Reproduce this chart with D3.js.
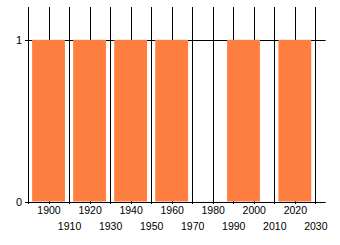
<!DOCTYPE html>
<html><head><meta charset="utf-8">
<script src="https://cdn.jsdelivr.net/npm/d3@7"></script>
<style>
html,body{margin:0;padding:0;background:#fff;}
svg{display:block;font-family:"Liberation Sans",Arial,sans-serif;}
</style></head>
<body><svg id="chart" width="340" height="245"></svg>
<script>
const barYears = [1900, 1920, 1940, 1960, 1995, 2020];
const barValues = [1, 1, 1, 1, 1, 1];
const tickYears = [1890, 1900, 1910, 1920, 1930, 1940, 1950, 1960, 1970, 1980, 1990, 2000, 2010, 2020, 2030];
const labelYears = [1900, 1910, 1920, 1930, 1940, 1950, 1960, 1970, 1980, 1990, 2000, 2010, 2020, 2030];
const yTicks = [0, 1];
const barSpan = 16;

const svg = d3.select("#chart");
const x = d3.scaleLinear().domain([1890, 2035]).range([28, 325.6]);
const y = d3.scaleLinear().domain([0, 1.2]).range([201.5, 7.5]);
const px = v => Math.round(v) + 0.5;

// vertical grid lines (decades) with ticks below axis
svg.append("g").selectAll("line").data(tickYears).join("line")
  .attr("x1", d => px(x(d))).attr("x2", d => px(x(d)))
  .attr("y1", 7).attr("y2", 204)
  .attr("stroke", "#000").attr("stroke-width", 1);

// horizontal grid line at 1
svg.append("g").selectAll("line").data(yTicks.filter(d => d > 0)).join("line")
  .attr("x1", 25).attr("x2", 325.6)
  .attr("y1", d => px(y(d))).attr("y2", d => px(y(d)))
  .attr("stroke", "#000").attr("stroke-width", 1);

// bars
svg.append("g").selectAll("rect").data(barYears).join("rect")
  .attr("x", d => x(d - barSpan / 2))
  .attr("width", d => x(d + barSpan / 2) - x(d - barSpan / 2))
  .attr("y", (d, i) => y(barValues[i]))
  .attr("height", (d, i) => y(0) - y(barValues[i]))
  .attr("fill", "#ff7f41");

// x baseline
svg.append("line")
  .attr("x1", 25).attr("x2", 325.6)
  .attr("y1", px(y(0))).attr("y2", px(y(0)))
  .attr("stroke", "#000");

// x labels, alternating rows
svg.append("g").selectAll("text").data(labelYears).join("text")
  .attr("x", d => x(d) + 0.5)
  .attr("y", (d, i) => (i % 2 === 0) ? 214 : 230)
  .attr("text-anchor", "middle")
  .attr("font-size", "10.5px")
  .attr("fill", "#000")
  .text(d => d);

// y labels
svg.append("g").selectAll("text").data(yTicks).join("text")
  .attr("x", 22)
  .attr("y", d => y(d) + 4)
  .attr("text-anchor", "end")
  .attr("font-size", "11px")
  .attr("fill", "#000")
  .text(d => d);
</script></body></html>
